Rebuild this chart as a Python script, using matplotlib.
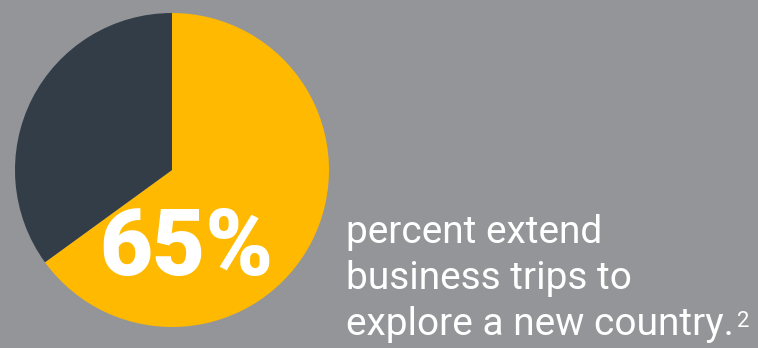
import matplotlib
matplotlib.use("Agg")
from matplotlib import pyplot as plt

# share of travellers who extend a business trip
labels = ["extend", "do not extend"]
shares = [65, 35]
colors = ["#FEB900", "#333D47"]

headline = "65%"
caption_lines = ["percent extend", "business trips to", "explore a new country."]
footnote = "2"

W, H = 758, 348
fig = plt.figure(figsize=(W / 100, H / 100), dpi=100)
fig.patch.set_facecolor("#939598")

# pie sits in a square axes on the left
cx, cy, r = 172, 170, 157
ax = fig.add_axes([(cx - r) / W, (H - cy - r) / H, 2 * r / W, 2 * r / H])
ax.pie(shares, colors=colors, startangle=90, counterclock=False,
       radius=1.0, wedgeprops=dict(linewidth=0))
ax.set_xlim(-1, 1)
ax.set_ylim(-1, 1)
ax.set_aspect("equal")
ax.axis("off")

fig.text(186 / W, 1 - 275 / H, headline, color="white", ha="center", va="baseline",
         fontsize=66, fontfamily="Roboto", fontweight="black")

# caption, one line per baseline
for i, line in enumerate(caption_lines):
    fig.text(346 / W, 1 - (243 + 46 * i) / H, line, color="white", ha="left",
             va="baseline", fontsize=28, fontfamily="Roboto", fontweight="normal")
fig.text(737 / W, 1 - 327 / H, footnote, color="white", ha="left", va="baseline",
         fontsize=16, fontfamily="Roboto", fontweight="normal")

fig.savefig("out.png", dpi=100, facecolor=fig.get_facecolor())
